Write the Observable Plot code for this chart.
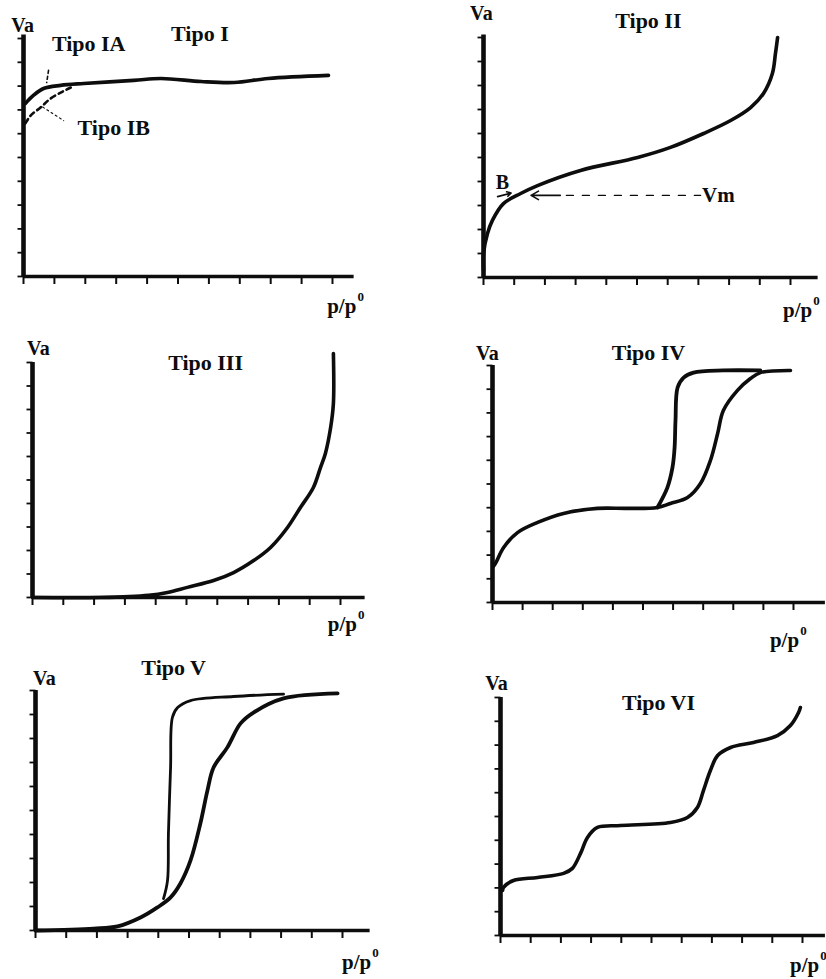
<!DOCTYPE html>
<html><head><meta charset="utf-8">
<script src="https://cdn.jsdelivr.net/npm/d3@7"></script>
<script src="https://cdn.jsdelivr.net/npm/@observablehq/plot@0.6"></script>
<style>
html,body{margin:0;padding:0;background:#fff;width:826px;height:979px;overflow:hidden;}
#root{position:relative;width:826px;height:979px;}
.panel{position:absolute;}
</style></head><body><div id="root"></div>
<script>
// ---------- values (p/p0 on x, Va on y, in axis units: 1 = 10 ticks) ----------
const tickValues = [0, 0.1, 0.2, 0.3, 0.4, 0.5, 0.6, 0.7, 0.8, 0.9, 1.0];
const titles = ["Tipo I", "Tipo II", "Tipo III", "Tipo IV", "Tipo V", "Tipo VI"];
const yName = "Va";
const xName = "p/p";
const xNameSup = "0";
const subLabels = ["Tipo IA", "Tipo IB", "B", "Vm"];

const tipoIA = [[0.006,0.727],[0.032,0.761],[0.065,0.790],[0.120,0.803],[0.195,0.811],[0.357,0.824],[0.445,0.832],[0.575,0.819],[0.682,0.815],[0.792,0.832],[0.987,0.845]];
const tipoIB = [[0.006,0.643],[0.023,0.676],[0.055,0.710],[0.088,0.748],[0.127,0.777],[0.153,0.794]];
const tipoII = [[0,0.03],[0,0.100],[0.013,0.183],[0.029,0.238],[0.065,0.308],[0.121,0.350],[0.176,0.383],[0.316,0.446],[0.502,0.500],[0.609,0.542],[0.717,0.600],[0.805,0.654],[0.870,0.708],[0.912,0.767],[0.941,0.850],[0.951,0.933],[0.958,1.000]];
const vmLevel = 0.342;
const tipoIII = [[0,0],[0.221,0],[0.377,0.009],[0.438,0.021],[0.503,0.043],[0.588,0.072],[0.653,0.106],[0.718,0.157],[0.773,0.213],[0.828,0.298],[0.870,0.383],[0.912,0.468],[0.935,0.553],[0.951,0.613],[0.968,0.723],[0.977,0.826],[0.977,1.038]];
const tipoIVads = [[0.003,0.152],[0.010,0.165],[0.037,0.232],[0.083,0.295],[0.150,0.338],[0.236,0.376],[0.349,0.397],[0.449,0.397],[0.548,0.401],[0.591,0.418],[0.648,0.443],[0.691,0.502],[0.724,0.599],[0.748,0.713],[0.767,0.810],[0.814,0.895],[0.857,0.945],[0.890,0.970],[0.990,0.979]];
const tipoIVdes = [[0.548,0.401],[0.581,0.485],[0.598,0.570],[0.605,0.654],[0.608,0.768],[0.615,0.907],[0.635,0.949],[0.668,0.970],[0.767,0.979],[0.890,0.979]];
const tipoVads = [[0,0],[0.189,0.008],[0.267,0.017],[0.342,0.054],[0.397,0.096],[0.440,0.138],[0.472,0.196],[0.505,0.292],[0.537,0.446],[0.560,0.583],[0.580,0.679],[0.625,0.763],[0.668,0.863],[0.710,0.908],[0.808,0.967],[0.984,0.988]];
const tipoVdes = [[0.417,0.133],[0.430,0.208],[0.433,0.404],[0.440,0.679],[0.446,0.888],[0.463,0.929],[0.505,0.958],[0.645,0.975],[0.808,0.985]];
const tipoVI = [[0.007,0.189],[0.010,0.202],[0.043,0.231],[0.123,0.244],[0.209,0.261],[0.238,0.282],[0.265,0.345],[0.288,0.412],[0.321,0.454],[0.397,0.462],[0.563,0.475],[0.619,0.496],[0.652,0.538],[0.672,0.609],[0.695,0.693],[0.719,0.756],[0.762,0.790],[0.838,0.811],[0.917,0.840],[0.960,0.882],[0.987,0.937],[0.993,0.958]];

// ---------- layout (pixel placement of each panel and its labels) ----------
const layout = [
  {x0: 23,  y0: 276, ux: 309, uy: 238, xmax: 1.07, ytop: 1.015, title: [0.571, 1.021], va: [-0.003, 1.055], pp: [1.03, -0.126]},
  {x0: 483, y0: 277, ux: 307, uy: 240, xmax: 1.09, ytop: 1.01, title: [0.537, 1.071], va: [-0.007, 1.10], pp: [1.023, -0.1375]},
  {x0: 32,  y0: 597, ux: 308, uy: 235, xmax: 1.08, ytop: 1.0, title: [0.562, 0.996], va: [0.019, 1.06], pp: [1.006, -0.115]},
  {x0: 492, y0: 602, ux: 301, uy: 237, xmax: 1.106, ytop: 1.0, title: [0.518, 1.051], va: [-0.017, 1.051], pp: [0.97, -0.16]},
  {x0: 35,  y0: 930, ux: 307, uy: 240, xmax: 1.09, ytop: 1.0, title: [0.45, 1.092], va: [0.029, 1.05], pp: [1.046, -0.133]},
  {x0: 500, y0: 935, ux: 302, uy: 238, xmax: 1.076, ytop: 1.0, title: [0.523, 0.975], va: [-0.013, 1.059], pp: [1.007, -0.126]}
];
const M = {left: 24, right: 34, top: 48, bottom: 50};
const FONT = "'Liberation Serif', 'DejaVu Serif', serif";
const INK = "#0d0d0d";

function txt(s, x, y, opts = {}) {
  return Plot.text([{s, x, y}], {x: "x", y: "y", text: "s", fontFamily: FONT, fontWeight: "bold", fontSize: 21, fill: INK, ...opts});
}
function curve(data, opts = {}) {
  return Plot.line(data, {x: d => d[0], y: d => d[1], stroke: INK, strokeWidth: 3.6, curve: "catmull-rom", strokeLinecap: "round", strokeLinejoin: "round", ...opts});
}

const extras = [
  // Tipo I
  [
    curve(tipoIB, {strokeWidth: 2.6, strokeDasharray: "5,4"}),
    curve(tipoIA),
    Plot.line([[0.081,0.866],[0.075,0.815]], {x: d => d[0], y: d => d[1], stroke: INK, strokeWidth: 1.6, strokeDasharray: "3,3"}),
    Plot.line([[0.062,0.712],[0.130,0.655]], {x: d => d[0], y: d => d[1], stroke: INK, strokeWidth: 1.1, strokeDasharray: "2,3"}),
    txt(subLabels[0], 0.211, 0.979, {fontSize: 22}),
    txt(subLabels[1], 0.292, 0.626, {fontSize: 22})
  ],
  // Tipo II
  [
    curve(tipoII),
    Plot.line([[0.27, vmLevel],[0.707, vmLevel]], {x: d => d[0], y: d => d[1], stroke: INK, strokeWidth: 1.4, strokeDasharray: "7,9"}),
    Plot.arrow([{a: 0.25, b: 0.155}], {x1: "a", x2: "b", y1: () => vmLevel, y2: () => vmLevel, stroke: INK, strokeWidth: 1.6, headLength: 8}),
    Plot.arrow([{a: 0.046, b: 0.09}], {x1: "a", x2: "b", y1: () => vmLevel - 0.005, y2: () => vmLevel + 0.01, stroke: INK, strokeWidth: 1.6, headLength: 6}),
    txt(subLabels[2], 0.062, 0.396, {fontSize: 20}),
    txt(subLabels[3], 0.712, vmLevel, {fontSize: 21, textAnchor: "start"})
  ],
  // Tipo III
  [curve(tipoIII)],
  // Tipo IV
  [curve(tipoIVdes, {strokeWidth: 3.8}), curve(tipoIVads)],
  // Tipo V
  [curve(tipoVdes, {strokeWidth: 2.8}), curve(tipoVads, {strokeWidth: 3.8})],
  // Tipo VI
  [curve(tipoVI)]
];

const root = document.getElementById("root");
layout.forEach((L, i) => {
  const width = M.left + L.ux * L.xmax + M.right;
  const height = M.top + L.uy + M.bottom;
  const tx = 7.5 / L.uy;   // x-tick length in y units
  const ty = 6 / L.ux;     // y-tick length in x units
  const chart = Plot.plot({
    width, height,
    marginLeft: M.left, marginRight: M.right, marginTop: M.top, marginBottom: M.bottom,
    x: {domain: [0, L.xmax], axis: null},
    y: {domain: [0, 1], axis: null},
    style: {background: "transparent", overflow: "visible"},
    marks: [
      Plot.link(tickValues, {x1: d => d, x2: d => d, y1: () => 0, y2: () => -tx, stroke: INK, strokeWidth: 2}),
      Plot.link(tickValues, {y1: d => d, y2: d => d, x1: () => 0, x2: () => -ty, stroke: INK, strokeWidth: 1.8}),
      Plot.ruleY([0], {x1: 0, x2: L.xmax, stroke: INK, strokeWidth: 3.4}),
      Plot.ruleX([0], {y1: 0, y2: L.ytop, stroke: INK, strokeWidth: 4.6}),
      ...extras[i],
      txt(titles[i], L.title[0], L.title[1], {fontSize: 22}),
      txt(yName, L.va[0], L.va[1], {fontSize: 20}),
      txt(xName, L.pp[0], L.pp[1], {fontSize: 21}),
      txt(xNameSup, L.pp[0], L.pp[1], {fontSize: 13, dx: 19, dy: -10})
    ]
  });
  chart.classList.add("panel");
  chart.style.left = (L.x0 - M.left) + "px";
  chart.style.top = (L.y0 - L.uy - M.top) + "px";
  root.appendChild(chart);
});
</script></body></html>
